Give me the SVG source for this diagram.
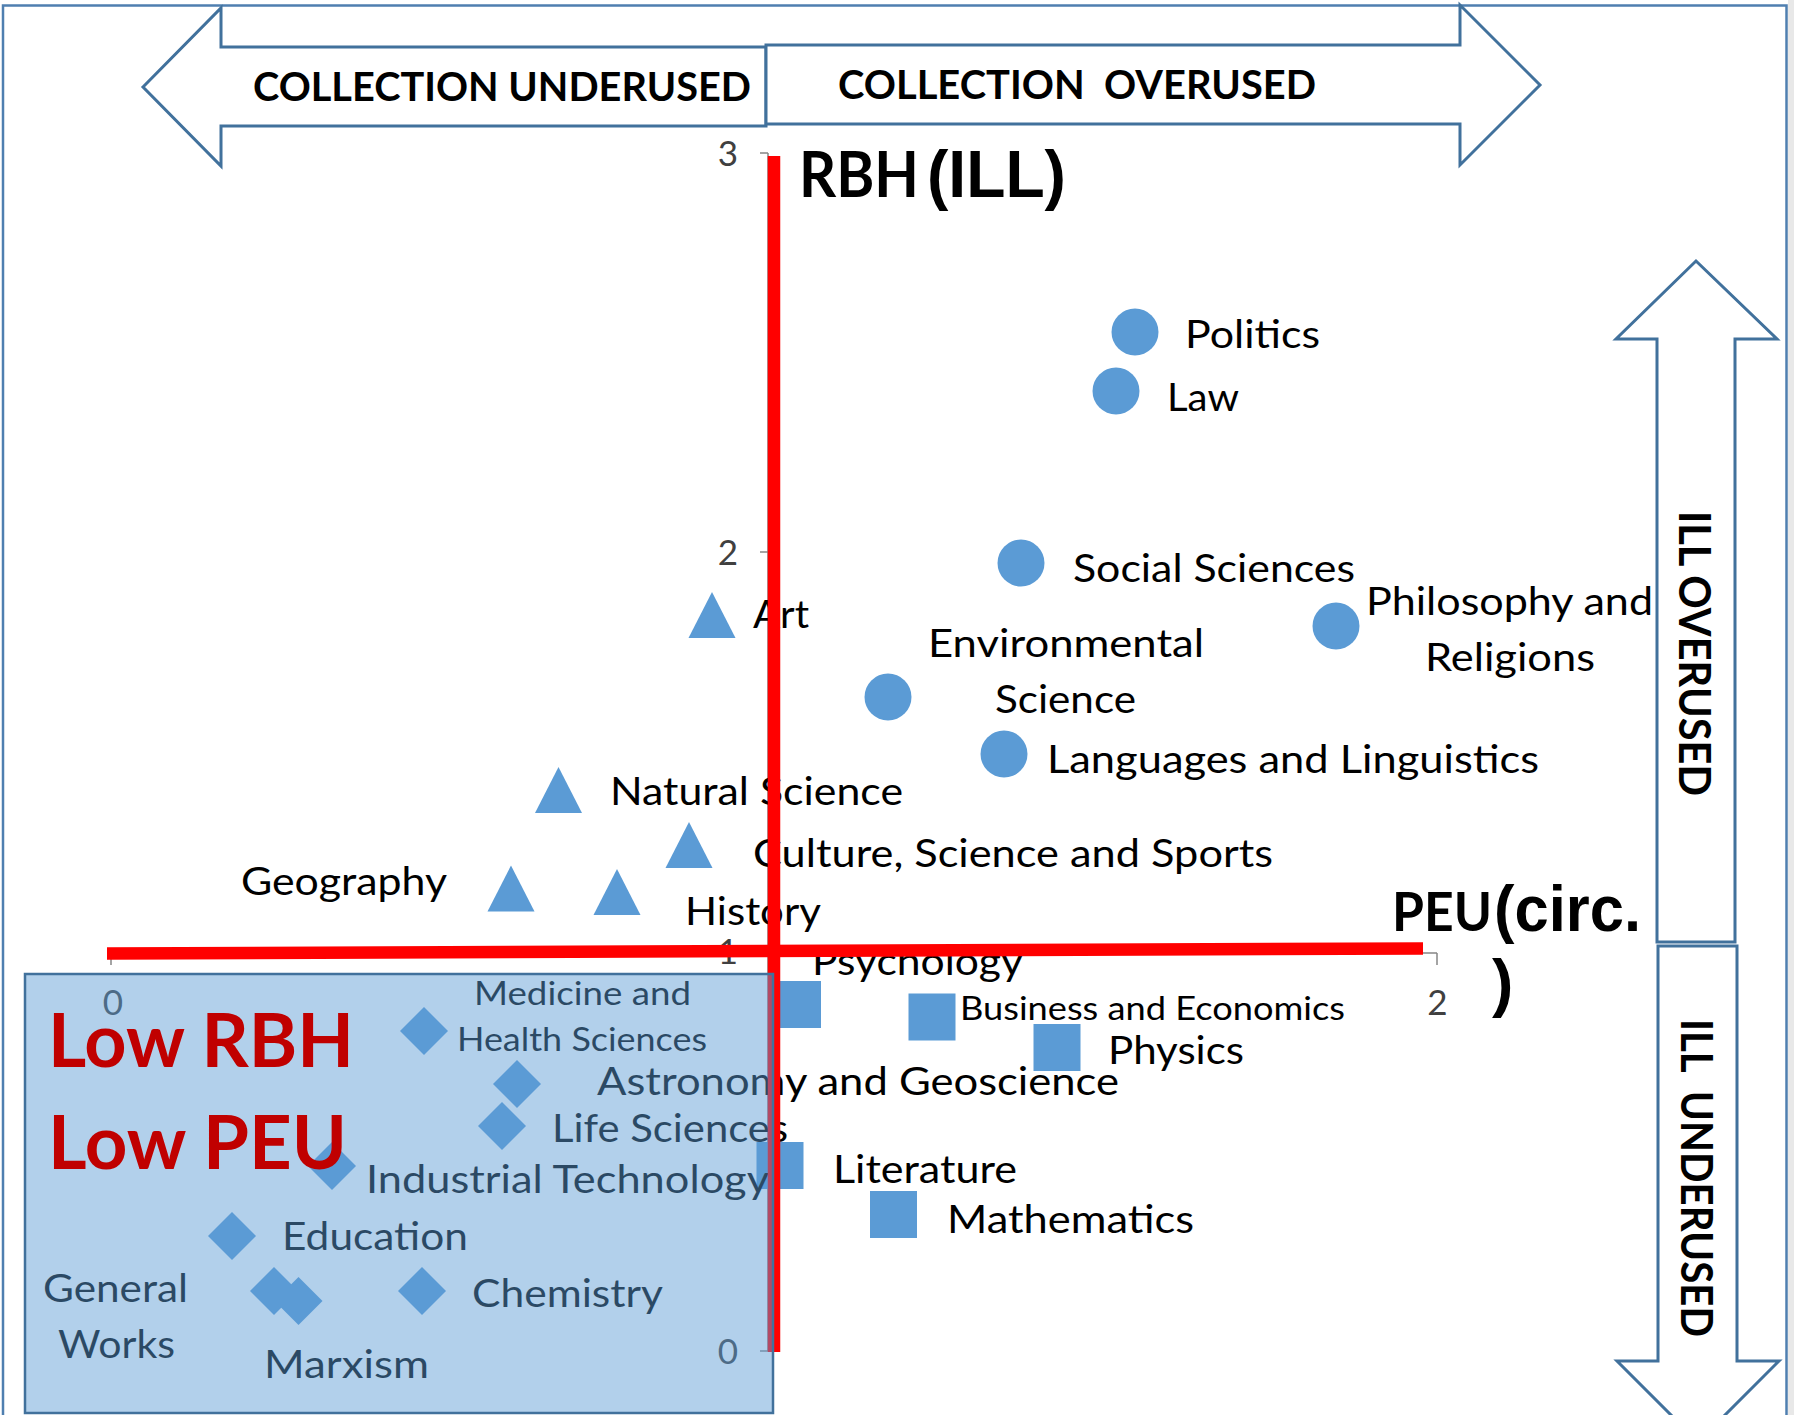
<svg xmlns="http://www.w3.org/2000/svg" width="1794" height="1415" viewBox="0 0 1794 1415">
<defs>
<style>
.lbl{font-family:Lato,'Liberation Sans',sans-serif;font-size:38px;fill:#000}
.sm{font-size:33px}
.tick{font-family:Lato,'Liberation Sans',sans-serif;font-size:35px;fill:#404040}
.mk{fill:#5B9BD5}
.arrow{fill:#fff;stroke:#41719C;stroke-width:3;stroke-linejoin:miter}
.hd{font-family:Lato,'Liberation Sans',sans-serif;font-weight:bold;font-size:40px;fill:#000}
.ttl{font-family:Lato,'Liberation Sans',sans-serif;font-weight:bold;fill:#000}
.ttl2{font-family:'Liberation Sans',Arial,sans-serif;font-weight:bold;fill:#000}
.low{font-family:Lato,'Liberation Sans',sans-serif;font-weight:bold;font-size:75px;fill:#C00000}
.ax{stroke:#868686;stroke-width:1.5;fill:none}
.red{stroke:#FF0000;fill:none;stroke-width:12.5}
</style>
<circle id="mc" r="23.5"/>
<path id="mt" d="M0,-23 L23.5,23 L-23.5,23 Z"/>
<rect id="ms" x="-23.5" y="-23.5" width="47" height="47"/>
<path id="md" d="M0,-24 L24,0 L0,24 L-24,0 Z"/>
</defs>
<rect x="0" y="0" width="1794" height="1415" fill="#fff"/>
<rect x="1788" y="0" width="6" height="1415" fill="#E8E8E8"/>
<rect id="frame" x="3" y="5.5" width="1783.5" height="1430" fill="none" stroke="#4F7FB0" stroke-width="2.5"/>

<g id="axes">
<line class="ax" x1="111" y1="953" x2="1437" y2="953"/>
<line class="ax" x1="111" y1="953" x2="111" y2="965"/>
<line class="ax" x1="1437" y1="953" x2="1437" y2="965"/>
<line class="ax" x1="768" y1="153" x2="768" y2="1351"/>
<line class="ax" x1="760" y1="153" x2="768" y2="153"/>
<line class="ax" x1="760" y1="552" x2="768" y2="552"/>
<line class="ax" x1="760" y1="951" x2="768" y2="951"/>
<line class="ax" x1="760" y1="1351" x2="768" y2="1351"/>
<text class="tick" x="738" y="165.5" text-anchor="end">3</text>
<text class="tick" x="738" y="565" text-anchor="end">2</text>
<text class="tick" x="738" y="964" text-anchor="end">1</text>
<text class="tick" x="738" y="1364" text-anchor="end">0</text>
<text class="tick" x="113" y="1015" text-anchor="middle">0</text>
<text class="tick" x="1437.5" y="1015" text-anchor="middle">2</text>
</g>

<g id="nodes">
<g id="politics"><use href="#mc" class="mk" x="1135" y="332"/><text class="lbl" x="1185" y="348" textLength="135" lengthAdjust="spacingAndGlyphs">Politics</text></g>
<g id="law"><use href="#mc" class="mk" x="1116" y="391"/><text class="lbl" x="1167" y="411" textLength="72" lengthAdjust="spacingAndGlyphs">Law</text></g>
<g id="social-sciences"><use href="#mc" class="mk" x="1021" y="563"/><text class="lbl" x="1073" y="582" textLength="282" lengthAdjust="spacingAndGlyphs">Social Sciences</text></g>
<g id="philosophy"><use href="#mc" class="mk" x="1336" y="626"/><text class="lbl" x="1366" y="615" textLength="287" lengthAdjust="spacingAndGlyphs">Philosophy and</text><text class="lbl" x="1425" y="671" textLength="170" lengthAdjust="spacingAndGlyphs">Religions</text></g>
<g id="environmental-science"><use href="#mc" class="mk" x="888" y="697"/><text class="lbl" x="928" y="657" textLength="276" lengthAdjust="spacingAndGlyphs">Environmental</text><text class="lbl" x="995" y="713" textLength="141" lengthAdjust="spacingAndGlyphs">Science</text></g>
<g id="languages"><use href="#mc" class="mk" x="1004" y="754"/><text class="lbl" x="1047" y="773" textLength="492" lengthAdjust="spacingAndGlyphs">Languages and Linguistics</text></g>

<g id="art"><use href="#mt" class="mk" x="712" y="615"/><text class="lbl" x="753" y="628" textLength="56" lengthAdjust="spacingAndGlyphs">Art</text></g>
<g id="natural-science"><use href="#mt" class="mk" x="558.5" y="790"/><text class="lbl" x="610" y="805" textLength="293" lengthAdjust="spacingAndGlyphs">Natural Science</text></g>
<g id="culture"><use href="#mt" class="mk" x="689" y="845"/><text class="lbl" x="753" y="867" textLength="520" lengthAdjust="spacingAndGlyphs">Culture, Science and Sports</text></g>
<g id="geography"><use href="#mt" class="mk" x="511" y="888.5"/><text class="lbl" x="241" y="895" textLength="206" lengthAdjust="spacingAndGlyphs">Geography</text></g>
<g id="history"><use href="#mt" class="mk" x="617" y="892"/><text class="lbl" x="685" y="925" textLength="136" lengthAdjust="spacingAndGlyphs">History</text></g>

<g id="psychology"><use href="#ms" class="mk" x="797.5" y="1004.5"/><text class="lbl" x="812" y="975" textLength="211" lengthAdjust="spacingAndGlyphs">Psychology</text></g>
<g id="business"><use href="#ms" class="mk" x="932" y="1017"/><text class="lbl sm" x="960" y="1020" textLength="385" lengthAdjust="spacingAndGlyphs">Business and Economics</text></g>
<g id="physics"><use href="#ms" class="mk" x="1057" y="1047.5"/><text class="lbl" x="1108" y="1064" textLength="136" lengthAdjust="spacingAndGlyphs">Physics</text></g>
<g id="literature"><use href="#ms" class="mk" x="780" y="1165.5"/><text class="lbl" x="833" y="1183" textLength="184" lengthAdjust="spacingAndGlyphs">Literature</text></g>
<g id="mathematics"><use href="#ms" class="mk" x="893.5" y="1214.5"/><text class="lbl" x="947" y="1233" textLength="247" lengthAdjust="spacingAndGlyphs">Mathematics</text></g>

<g id="medicine"><use href="#md" class="mk" x="424" y="1031"/><text class="lbl sm" x="474" y="1005" textLength="217" lengthAdjust="spacingAndGlyphs">Medicine and</text><text class="lbl sm" x="457" y="1051" textLength="250" lengthAdjust="spacingAndGlyphs">Health Sciences</text></g>
<g id="astronomy"><use href="#md" class="mk" x="517" y="1084"/><text class="lbl" x="597" y="1095" textLength="522" lengthAdjust="spacingAndGlyphs">Astronomy and Geoscience</text></g>
<g id="life-sciences"><use href="#md" class="mk" x="502" y="1126"/><text class="lbl" x="552" y="1142" textLength="236" lengthAdjust="spacingAndGlyphs">Life Sciences</text></g>
<g id="industrial-technology"><use href="#md" class="mk" x="332" y="1166"/><text class="lbl" x="366" y="1193" textLength="403" lengthAdjust="spacingAndGlyphs">Industrial Technology</text></g>
<g id="education"><use href="#md" class="mk" x="232" y="1236"/><text class="lbl" x="282" y="1250" textLength="186" lengthAdjust="spacingAndGlyphs">Education</text></g>
<g id="general-works"><use href="#md" class="mk" x="274" y="1291"/><text class="lbl" x="43" y="1302" textLength="145" lengthAdjust="spacingAndGlyphs">General</text><text class="lbl" x="58" y="1358" textLength="117" lengthAdjust="spacingAndGlyphs">Works</text></g>
<g id="marxism"><use href="#md" class="mk" x="298.5" y="1301"/><text class="lbl" x="264" y="1378" textLength="165" lengthAdjust="spacingAndGlyphs">Marxism</text></g>
<g id="chemistry"><use href="#md" class="mk" x="422" y="1291"/><text class="lbl" x="472" y="1307" textLength="191" lengthAdjust="spacingAndGlyphs">Chemistry</text></g>
</g>

<g id="connectors">
<line class="red" x1="107" y1="953.5" x2="1423" y2="948.5"/>
<line class="red" x1="774" y1="156" x2="774" y2="1352"/>
</g>

<g id="low-quadrant">
<rect x="25" y="974" width="748" height="439" fill="#5B9BD5" fill-opacity="0.47" stroke="#41719C" stroke-width="2.5"/>
<text class="low" x="48" y="1067" textLength="306" lengthAdjust="spacingAndGlyphs">Low RBH</text>
<text class="low" x="48" y="1169" textLength="299" lengthAdjust="spacingAndGlyphs">Low PEU</text>
</g>

<g id="collection-underused">
<polygon class="arrow" points="143,87 221,8 221,47 766,47 766,126 221,126 221,166"/>
<text class="hd" x="253" y="101" textLength="498" lengthAdjust="spacingAndGlyphs">COLLECTION UNDERUSED</text>
</g>
<g id="collection-overused">
<polygon class="arrow" points="766,45 1460,45 1460,5 1540,85 1460,165 1460,124 766,124"/>
<text class="hd" x="838" y="99" textLength="478" lengthAdjust="spacingAndGlyphs">COLLECTION&#160; OVERUSED</text>
</g>
<g id="ill-overused">
<polygon class="arrow" points="1696,261 1777,339 1735,339 1735,942 1657,942 1657,339 1616,339"/>
<text class="ttl" font-size="44" transform="translate(1679,511) rotate(90)" x="0" y="0" textLength="285" lengthAdjust="spacingAndGlyphs">ILL OVERUSED</text>
</g>
<g id="ill-underused">
<polygon class="arrow" points="1658,946 1737,946 1737,1361 1779,1361 1698,1442 1617,1361 1658,1361"/>
<text class="ttl" font-size="44" transform="translate(1681,1019) rotate(90)" x="0" y="0" textLength="318" lengthAdjust="spacingAndGlyphs">ILL&#160; UNDERUSED</text>
</g>

<g id="y-title">
<text class="ttl" font-size="63" x="799" y="197" textLength="120" lengthAdjust="spacingAndGlyphs">RBH</text>
<text class="ttl2" font-size="66" x="927" y="197" textLength="139" lengthAdjust="spacingAndGlyphs">(ILL)</text>
</g>
<g id="x-title">
<text class="ttl" font-size="54" x="1392" y="931" textLength="100" lengthAdjust="spacingAndGlyphs">PEU</text>
<text class="ttl2" font-size="64" x="1494" y="931" textLength="147" lengthAdjust="spacingAndGlyphs">(circ.</text>
<text class="ttl2" font-size="64" x="1492" y="1005">)</text>
</g>
</svg>
